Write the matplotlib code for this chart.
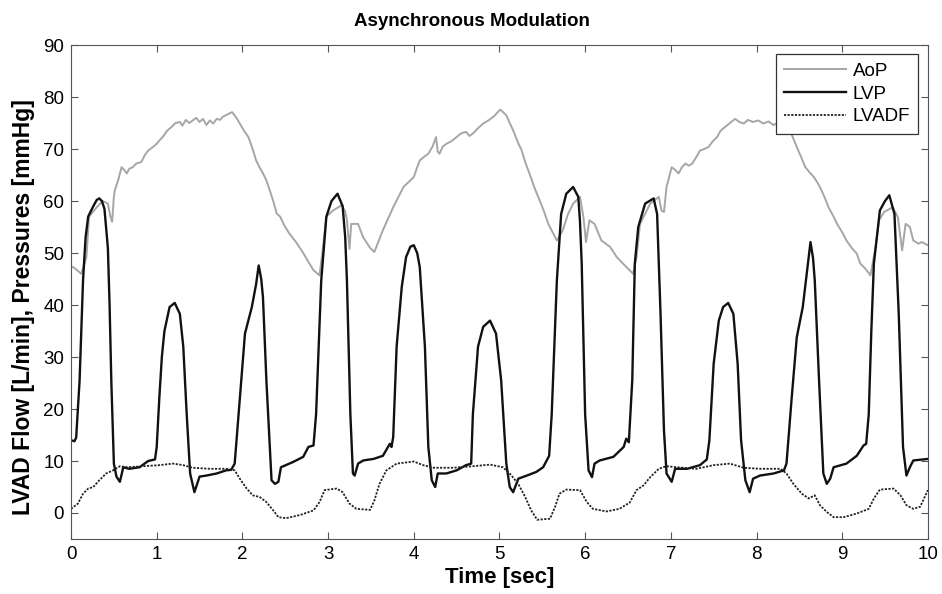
import numpy as np
import matplotlib.pyplot as plt

plt.rcParams['font.family'] = ['Liberation Sans', 'DejaVu Sans']

# AoP (gray) - time [s], pressure [mmHg]
aop_t = [0, 0.05, 0.12, 0.18, 0.21, 0.3, 0.37, 0.43, 0.46, 0.48, 0.5, 0.51, 0.55, 0.59, 0.62,
         0.65, 0.68, 0.72, 0.76, 0.82, 0.86, 0.9, 0.95, 1.0, 1.04, 1.07, 1.12, 1.17, 1.22, 1.27,
         1.3, 1.34, 1.38, 1.42, 1.46, 1.5, 1.54, 1.58, 1.62, 1.66, 1.7, 1.74, 1.77, 1.82, 1.88,
         1.93, 1.97, 2.02, 2.07, 2.12, 2.16, 2.2, 2.24, 2.28, 2.32, 2.36, 2.4, 2.44, 2.5, 2.55,
         2.63, 2.71, 2.77, 2.83, 2.9, 2.94, 2.98, 3.06, 3.16, 3.2, 3.22, 3.25, 3.27, 3.32, 3.35,
         3.41, 3.49, 3.54, 3.64, 3.76, 3.88, 4.0, 4.04, 4.07, 4.12, 4.17, 4.22, 4.26, 4.28, 4.3,
         4.34, 4.38, 4.44, 4.5, 4.55, 4.61, 4.65, 4.69, 4.75, 4.81, 4.87, 4.93, 5.01, 5.08, 5.12,
         5.16, 5.21, 5.26, 5.3, 5.35, 5.41, 5.47, 5.52, 5.57, 5.62, 5.67, 5.74, 5.8, 5.86, 5.94,
         5.98, 6.01, 6.05, 6.11, 6.15, 6.19, 6.29, 6.37, 6.44, 6.56, 6.6, 6.64, 6.76, 6.86, 6.89,
         6.92, 6.95, 7.01, 7.05, 7.09, 7.13, 7.17, 7.21, 7.25, 7.3, 7.34, 7.39, 7.44, 7.49, 7.54,
         7.58, 7.63, 7.69, 7.75, 7.8, 7.85, 7.9, 7.96, 8.02, 8.08, 8.14, 8.2, 8.26, 8.32, 8.39,
         8.43, 8.47, 8.52, 8.57, 8.62, 8.67, 8.72, 8.76, 8.8, 8.84, 8.9, 8.94, 9.0, 9.05, 9.11,
         9.17, 9.21, 9.27, 9.33, 9.39, 9.43, 9.49, 9.59, 9.65, 9.7, 9.74, 9.79, 9.83, 9.89, 9.93,
         10.0]
aop_v = [47.5, 47, 46, 49.2, 57, 58.8, 60, 59.5, 57, 56, 60.8, 62, 64, 66.5, 66,
         65.3, 66.2, 66.5, 67.2, 67.5, 68.8, 69.7, 70.3, 71, 71.8, 72.3, 73.5, 74.2, 75, 75.2,
         74.5, 75.6, 75, 75.5, 76, 75.2, 75.8, 74.6, 75.5, 74.9, 75.8, 75.6, 76.2, 76.6, 77.1,
         76, 74.9, 73.5, 72.3, 70, 67.8, 66.5, 65.3, 64, 62, 60, 57.6, 57, 55, 53.7,
         52, 50, 48.3, 46.7, 45.7, 51, 57, 58.2, 59.2, 58, 56.3, 50.8, 55.6, 55.6, 55.6,
         53, 51, 50.2, 54.4, 58.8, 62.7, 64.6, 66.5, 67.8, 68.5, 69.1, 70.5, 72.3, 69.5, 69.1,
         70.5, 71, 71.5, 72.3, 73, 73.3, 72.5, 73, 74, 74.9, 75.5, 76.2, 77.6, 76.5, 75,
         73.6, 71.5, 69.7, 67.5, 65.3, 62.5, 60.1, 58, 55.6, 54, 52.4, 54.4, 57.5, 59.5, 60.8,
         56.9, 52.1, 56.3, 55.6, 54, 52.4, 51.2, 49.2, 48, 46, 49.2, 55.6, 59.5, 60.8, 58.2,
         57.9, 62.7, 66.5, 66, 65.3, 66.5, 67.2, 66.8, 67.2, 68.5, 69.7, 70, 70.4, 71.5, 72.3,
         73.5, 74.2, 75, 75.8, 75.2, 74.9, 75.6, 75.2, 75.5, 74.9, 75.3, 74.6, 75.2, 74.9, 73.6,
         72, 70.4, 68.5, 66.5, 65.5, 64.6, 63.3, 62, 60.5, 58.8, 57, 55.6, 54, 52.4, 51,
         49.9, 48, 47, 45.7, 51.2, 56.3, 57.9, 58.8, 56.9, 50.5, 55.6, 55, 52.4, 51.8, 52.1,
         51.5]

# LVP (black solid)
lvp_t = [0.0, 0.04, 0.06, 0.1, 0.14, 0.17, 0.2, 0.26, 0.3, 0.33, 0.36, 0.39, 0.43, 0.45, 0.47,
         0.5, 0.53, 0.57, 0.61, 0.68, 0.8, 0.9, 0.98, 1.0, 1.03, 1.06, 1.09, 1.15, 1.21, 1.27,
         1.31, 1.35, 1.39, 1.44, 1.5, 1.58, 1.7, 1.81, 1.87, 1.91, 1.97, 2.03, 2.11, 2.16, 2.19,
         2.22, 2.24, 2.28, 2.34, 2.38, 2.42, 2.45, 2.59, 2.71, 2.77, 2.83, 2.86, 2.89, 2.92, 2.98,
         3.04, 3.11, 3.17, 3.2, 3.22, 3.26, 3.29, 3.31, 3.35, 3.41, 3.53, 3.64, 3.7, 3.72, 3.74,
         3.76, 3.8, 3.86, 3.91, 3.96, 4.0, 4.04, 4.07, 4.13, 4.17, 4.21, 4.25, 4.28, 4.38, 4.5,
         4.61, 4.67, 4.69, 4.75, 4.81, 4.89, 4.96, 5.02, 5.08, 5.12, 5.16, 5.22, 5.32, 5.43, 5.51,
         5.58, 5.61, 5.64, 5.67, 5.72, 5.78, 5.86, 5.92, 5.94, 5.96, 6.0, 6.04, 6.08, 6.11, 6.17,
         6.33, 6.45, 6.48, 6.51, 6.55, 6.58, 6.62, 6.7, 6.8, 6.84, 6.88, 6.92, 6.95, 7.01, 7.05,
         7.19, 7.34, 7.42, 7.45, 7.5, 7.56, 7.61, 7.67, 7.73, 7.78, 7.82, 7.87, 7.92, 7.96, 8.04,
         8.2, 8.32, 8.35, 8.41, 8.47, 8.54, 8.6, 8.63, 8.66, 8.68, 8.73, 8.78, 8.82, 8.86, 8.9,
         9.05, 9.17, 9.25, 9.28, 9.31, 9.34, 9.37, 9.44, 9.5, 9.55, 9.61, 9.66, 9.71, 9.75, 9.79,
         9.83, 9.99, 10.0]
lvp_v = [14, 13.8, 14.5, 25.5, 44.7, 53, 57, 59, 60.2, 60.5, 60, 58.5, 51, 40, 25.5,
         9.5, 7, 6, 8.8, 8.5, 8.8, 10, 10.3, 12.7, 22, 30, 35, 39.6, 40.4, 38.3,
         32, 19, 7.6, 4, 7, 7.2, 7.6, 8.2, 8.3, 9.5, 22, 34.5, 39.6, 44, 47.6,
         45, 41.5, 25.5, 6.3, 5.6, 6, 8.8, 9.8, 10.8, 12.7, 13, 19, 32, 44.7, 57,
         60, 61.4, 59, 53, 44.7, 19, 7.6, 7.2, 9.5, 10.1, 10.4, 11, 12.7, 13.3, 12.7,
         14.6, 32, 43.5, 49.2, 51.2, 51.5, 50, 47.3, 32, 12.7, 6.3, 5, 7.6, 7.6, 8.2,
         9.2, 9.5, 19, 32, 35.8, 37, 34.5, 25.5, 9.5, 5, 4, 6.6, 7.2, 7.9, 8.8,
         11, 19, 32, 44.7, 57.5, 61.4, 62.7, 60.8, 56, 48, 19, 8.2, 6.9, 9.5, 10.1,
         10.8, 12.7, 14.3, 13.6, 25.5, 48, 55, 59.5, 60.5, 57.5, 38.3, 15.9, 7.6, 6, 8.5,
         8.5, 9.2, 10.3, 14, 28.7, 37, 39.6, 40.4, 38.3, 28.7, 14, 6.3, 4, 6.6, 7.2,
         7.6, 8.2, 9.5, 22, 33.8, 39.6, 48, 52.1, 49, 44.7, 25.5, 7.6, 5.6, 6.6, 8.8,
         9.5, 11, 13, 13.3, 19, 35, 48, 58.2, 60, 61.1, 57.5, 38.3, 12.7, 7.2, 8.8,
         10.1, 10.4, 10.4]

# LVADF (dotted) - flow [L/min]
lvadf_t = [0, 0.08, 0.14, 0.2, 0.26, 0.33, 0.41, 0.49, 0.57, 0.65, 0.84, 1.03, 1.19, 1.31, 1.42,
           1.62, 1.81, 1.91, 1.97, 2.05, 2.12, 2.2, 2.28, 2.36, 2.42, 2.51, 2.67, 2.83, 2.9, 2.96,
           3.1, 3.17, 3.25, 3.33, 3.49, 3.54, 3.6, 3.68, 3.8, 4.0, 4.11, 4.23, 4.46, 4.69, 4.89,
           5.04, 5.12, 5.22, 5.3, 5.37, 5.44, 5.59, 5.65, 5.7, 5.78, 5.94, 6.02, 6.09, 6.25, 6.4,
           6.52, 6.6, 6.68, 6.76, 6.86, 6.95, 7.07, 7.3, 7.5, 7.69, 7.85, 8.04, 8.28, 8.35, 8.43,
           8.53, 8.61, 8.68, 8.74, 8.82, 8.9, 9.02, 9.17, 9.31, 9.37, 9.44, 9.6, 9.68, 9.75, 9.83,
           9.91, 10.0]
lvadf_v = [0.8, 1.8, 3.7, 4.7, 5, 6.3, 7.6, 8.2, 9, 8.8, 9, 9.2, 9.5, 9.2, 8.7,
           8.5, 8.5, 8.2, 6.6, 4.7, 3.4, 3.1, 2.1, 0.5, -0.8, -1, -0.4, 0.5, 2.1, 4.4,
           4.7, 4, 1.8, 0.8, 0.6, 2.4, 5.6, 8.2, 9.5, 9.9, 9.2, 8.7, 8.7, 9, 9.3,
           8.8, 7.6, 5.6, 3.1, 0.5, -1.3, -1.1, 1.2, 3.7, 4.5, 4.4, 2.1, 0.8, 0.3, 0.8,
           2.0, 4.4, 5.3, 6.9, 8.5, 9, 8.8, 8.5, 9.2, 9.5, 8.7, 8.5, 8.5, 7.6, 5.6,
           3.7, 2.8, 3.4, 1.5, 0.2, -0.8, -0.8, -0.1, 0.8, 2.8, 4.5, 4.7, 3.4, 1.5, 0.8,
           1.2, 4.4]

fig = plt.figure(figsize=(9.42, 5.94), dpi=100)
ax = fig.add_axes([0.0754, 0.0926, 0.9096, 0.8316])

ax.plot(aop_t, aop_v, color='#a6a6a6', lw=1.4, label='AoP')
ax.plot(lvp_t, lvp_v, color='#111111', lw=1.7, label='LVP')
ax.plot(lvadf_t, lvadf_v, color='#222222', lw=1.3, linestyle=(0, (1.2, 0.8)), label='LVADF')

ax.set_xlim(0, 10)
ax.set_ylim(-5, 90)
ax.set_xticks(range(0, 11))
ax.set_yticks(range(0, 91, 10))
ax.tick_params(direction='in', top=True, right=True, labelsize=13.5, length=5,
               color='#555555', pad=5)
for s in ax.spines.values():
    s.set_color('#555555')

ax.set_title('Asynchronous Modulation', fontsize=13.5, fontweight='bold', x=0.468, pad=14)
ax.set_xlabel('Time [sec]', fontsize=16, fontweight='bold', labelpad=3)
ax.set_ylabel('LVAD Flow [L/min], Pressures [mmHg]', fontsize=16.5, fontweight='bold')
ax.yaxis.set_label_coords(-0.042, 0.47)

leg = ax.legend(loc='upper right', fontsize=13.5, fancybox=False, framealpha=1,
                edgecolor='#333333', handlelength=3.3, borderpad=0.45, labelspacing=0.3,
                handletextpad=0.35, borderaxespad=0.5)
leg.get_frame().set_linewidth(0.9)

fig.savefig('out.png', dpi=100)
